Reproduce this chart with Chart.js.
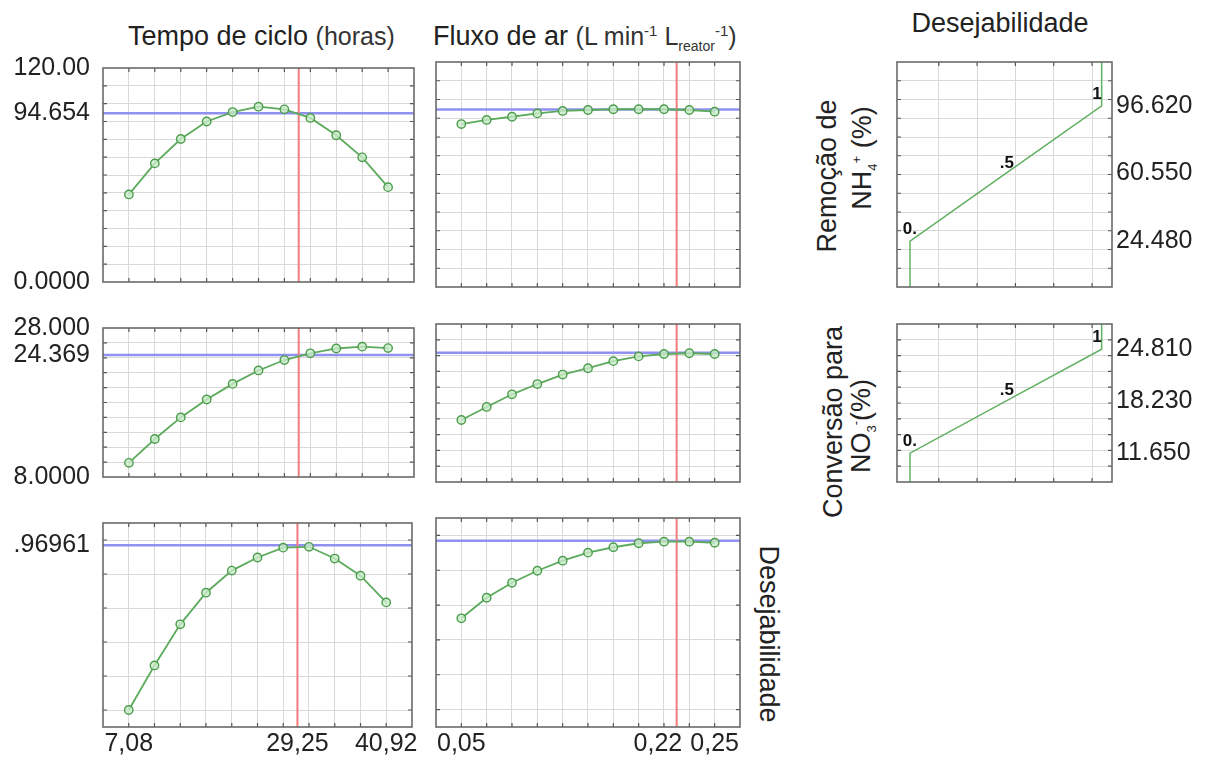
<!DOCTYPE html>
<html>
<head>
<meta charset="utf-8">
<script src="https://cdn.jsdelivr.net/npm/chart.js@4.4.1/dist/chart.umd.min.js"></script>
<style>
    body { margin: 0; background: #fff; width: 1214px; height: 758px; position: relative; overflow: hidden;
           font-family: "Liberation Sans", Arial, sans-serif; color: #222; }
    canvas { position: absolute; }
    .lbl { position: absolute; white-space: nowrap; line-height: 1; font-size: 27px; }
    .ccw { transform: translate(-50%, -50%) rotate(-90deg); }
    .cw { transform: translate(-50%, -50%) rotate(90deg); }
    sup, sub { font-size: 13px; line-height: 0; }
</style>
</head>
<body>
<div class="lbl" style="left:128px; top:23px;">Tempo de ciclo <span style="font-size:25px; color:#333">(horas)</span></div>
<div class="lbl" style="left:433px; top:23px;">Fluxo de ar <span style="font-size:25px; color:#333">(L min<sup style="font-size:15px">-1</sup> L<sub style="font-size:14px">reator</sub><sup style="font-size:15px">-1</sup>)</span></div>
<div class="lbl" style="left:1000px; top:10px; transform: translateX(-50%);">Desejabilidade</div>
<div class="lbl ccw" style="left:827px; top:176px;">Remoção de</div>
<div class="lbl ccw" style="left:862px; top:158px;">NH<sub>4</sub><sup>+</sup> (%)</div>
<div class="lbl ccw" style="left:833px; top:422px;">Conversão para</div>
<div class="lbl ccw" style="left:861px; top:426px;">NO<sub>3</sub><sup>-</sup>(%)</div>
<div class="lbl cw" style="left:768px; top:634px;">Desejabilidade</div>

<canvas id="p11"></canvas>
<canvas id="p12"></canvas>
<canvas id="p21"></canvas>
<canvas id="p22"></canvas>
<canvas id="p31"></canvas>
<canvas id="p32"></canvas>
<canvas id="d1"></canvas>
<canvas id="d2"></canvas>

<script>
// factor levels (x) of the profiles
const tempoNiveis = [7.08, 10.46, 13.85, 17.23, 20.62, 24.00, 27.38, 30.77, 34.15, 37.54, 40.92];
const fluxoNiveis = [0.05, 0.07, 0.09, 0.11, 0.13, 0.15, 0.17, 0.19, 0.21, 0.23, 0.25];

// predicted responses
const remocaoTempo = [49.1, 66.5, 80.2, 90.0, 95.3, 98.3, 96.8, 92.0, 82.3, 69.9, 53.2];
const remocaoFluxo = [86.9, 89.1, 90.8, 92.6, 93.9, 94.4, 94.8, 94.8, 94.8, 94.4, 93.5];
const conversaoTempo = [9.9, 13.1, 16.0, 18.4, 20.5, 22.3, 23.7, 24.6, 25.25, 25.5, 25.3];
const conversaoFluxo = [15.85, 17.5, 19.1, 20.4, 21.6, 22.4, 23.3, 23.9, 24.2, 24.3, 24.2];
const desejTempo = [0.0, 0.262, 0.504, 0.69, 0.82, 0.897, 0.955, 0.96, 0.891, 0.79, 0.633];
const desejFluxo = [0.524, 0.642, 0.728, 0.797, 0.855, 0.901, 0.932, 0.955, 0.964, 0.964, 0.958];

// optimum
const tempoOtimo = 29.25;
const fluxoOtimo = 0.22;
const remocaoOtima = 94.654;
const conversaoOtima = 24.369;
const desejOtima = 0.96961;

// axis tick labels
const tempoTicks = [7.08, 29.25, 40.92];
const tempoTickLabels = ['7,08', '29,25', '40,92'];
const fluxoTicks = [0.05, 0.22, 0.25];
const fluxoTickLabels = ['0,05', '0,22', '0,25'];
const remocaoTicks = [0, 94.654, 120];
const remocaoTickLabels = ['0.0000', '94.654', '120.00'];
const conversaoTicks = [8, 24.369, 28];
const conversaoTickLabels = ['8.0000', '24.369', '28.000'];
const desejTicks = [0.96961];
const desejTickLabels = ['.96961'];

// grid lines
const remocaoGrade = [10, 20, 30, 40, 50, 60, 70, 80, 90, 100, 110];
const conversaoGrade = [10, 12, 14, 16, 18, 20, 22, 24, 26];
const desejGrade = [0, 0.2, 0.4, 0.6, 0.8, 1.0];
const desejXGrade = [0.15, 0.35, 0.55, 0.75, 0.95];

// desirability functions: response at d = 0, .5, 1
const desejNiveis = [0, 0.5, 1];
const desejNiveisLabels = ['0.', '.5', '1'];
const remocaoDesej = [24.48, 60.55, 96.62];
const remocaoDesejLabels = ['24.480', '60.550', '96.620'];
const conversaoDesej = [11.65, 18.23, 24.81];
const conversaoDesejLabels = ['11.650', '18.230', '24.810'];

const fonte = '"Liberation Sans", Arial, sans-serif';
const mesmo = (a, b) => Math.abs(a - b) < 1e-9;

function eixo(min, max, grade, tickVals, tickLabels, extra) {
    return {
        type: 'linear',
        min: min,
        max: max,
        position: extra.position,
        border: { display: false },
        grid: {
            drawTicks: false,
            lineWidth: 1,
            color: c => (c.tick && grade.some(v => mesmo(v, c.tick.value))) ? '#d9d9d9' : 'rgba(0,0,0,0)'
        },
        ticks: {
            display: extra.labels,
            autoSkip: false,
            maxRotation: 0,
            padding: extra.padding || 0,
            font: { family: fonte, size: 25 },
            color: '#222',
            callback: v => {
                const i = tickVals.findIndex(t => mesmo(t, v));
                if (i < 0) return '';
                // the label on the optimum is pushed left so it clears the last one
                return extra.recuo === v ? tickLabels[i] + '\u2002\u2002\u2002' : tickLabels[i];
            }
        },
        afterBuildTicks: ax => {
            const extras = tickVals.filter(t => !grade.some(g => mesmo(g, t)));
            ax.ticks = grade.concat(extras).sort((a, b) => a - b).map(value => ({ value }));
        },
        afterFit: s => {
            if (extra.width !== undefined) s.width = extra.width;
            if (extra.height !== undefined) s.height = extra.height;
        }
    };
}

function curva(xs, ys) {
    return {
        data: xs.map((x, i) => ({ x: x, y: ys[i] })),
        borderColor: '#5cab5c',
        borderWidth: 1.8,
        pointRadius: 4.2,
        pointBackgroundColor: 'rgba(200,235,200,0.8)',
        pointBorderColor: '#4d9c4d',
        pointBorderWidth: 1.4,
        order: 0
    };
}

function linhaH(x0, x1, y) {
    return { data: [{ x: x0, y: y }, { x: x1, y: y }], borderColor: '#9090f0', borderWidth: 2.5, pointRadius: 0, order: 2 };
}

function linhaV(x, y0, y1) {
    return { data: [{ x: x, y: y0 }, { x: x, y: y1 }], borderColor: '#f27c7c', borderWidth: 2, pointRadius: 0, order: 1 };
}

function painel(id, caixa, cfg) {
    const canvas = document.getElementById(id);
    canvas.width = caixa.w;
    canvas.height = caixa.h;
    canvas.style.left = caixa.x + 'px';
    canvas.style.top = caixa.y + 'px';

    // frame with small ticks, plus optional text marks
    const moldura = {
        id: 'moldura',
        afterDraw(chart) {
            const { ctx, chartArea: a, scales } = chart;
            ctx.save();
            ctx.strokeStyle = '#555';
            ctx.lineWidth = 1.2;
            ctx.beginPath();
            cfg.xGrade.forEach(v => {
                const px = scales.x.getPixelForValue(v);
                ctx.moveTo(px, a.top); ctx.lineTo(px, a.top + 4);
                ctx.moveTo(px, a.bottom); ctx.lineTo(px, a.bottom - 4);
            });
            cfg.yGrade.forEach(v => {
                const py = scales.y.getPixelForValue(v);
                ctx.moveTo(a.left, py); ctx.lineTo(a.left + 4, py);
                ctx.moveTo(a.right, py); ctx.lineTo(a.right - 4, py);
            });
            ctx.stroke();
            ctx.strokeStyle = '#6a6a6a';
            ctx.lineWidth = 1.6;
            ctx.strokeRect(a.left, a.top, a.right - a.left, a.bottom - a.top);

            if (cfg.marcas) {
                ctx.fillStyle = '#111';
                ctx.font = 'bold 17px ' + fonte;
                ctx.textBaseline = 'bottom';
                cfg.marcas.d.forEach((d, i) => {
                    const px = scales.x.getPixelForValue(d);
                    const py = scales.y.getPixelForValue(cfg.marcas.y[i]);
                    if (i === 0) { ctx.textAlign = 'right'; ctx.fillText(cfg.marcas.t[i], px + 7, py - 3); }
                    else if (i === 1) { ctx.textAlign = 'center'; ctx.fillText(cfg.marcas.t[i], px + 1, py - 2); }
                    else { ctx.textAlign = 'right'; ctx.fillText(cfg.marcas.t[i], px, py - 3); }
                });
            }
            ctx.restore();
        }
    };

    new Chart(canvas, {
        type: 'line',
        data: { datasets: cfg.datasets },
        options: {
            responsive: false,
            animation: false,
            events: [],
            layout: { padding: cfg.padding },
            plugins: { legend: { display: false }, tooltip: { enabled: false } },
            scales: { x: cfg.x, y: cfg.y }
        },
        plugins: [moldura]
    });
}

// layout of the grid of panels
const colEsq = { x: 0, w: 420, eixo: 103, dir: 6 };
const colDir = { x: 420, w: 360, eixo: 16, dir: 40 };
const linhas = [
    { y: 40, h: 270, top: 22, bottom: 23, eixoX: 0 },
    { y: 300, h: 205, top: 24, bottom: 23, eixoX: 0 },
    { y: 495, h: 263, top: 23, bottom: 0, eixoX: 31 }
];

const tempoMin = 3.696, tempoMax = 44.304;
const fluxoMin = 0.03, fluxoMax = 0.27;

const respostas = [
    { min: 0, max: 120, grade: remocaoGrade, ticks: remocaoTicks, labels: remocaoTickLabels,
      tempo: remocaoTempo, fluxo: remocaoFluxo, otimo: remocaoOtima },
    { min: 8, max: 28, grade: conversaoGrade, ticks: conversaoTicks, labels: conversaoTickLabels,
      tempo: conversaoTempo, fluxo: conversaoFluxo, otimo: conversaoOtima },
    { min: -0.1, max: 1.1, grade: desejGrade, ticks: desejTicks, labels: desejTickLabels,
      tempo: desejTempo, fluxo: desejFluxo, otimo: desejOtima }
];

const fatores = [
    { col: colEsq, niveis: tempoNiveis, min: tempoMin, max: tempoMax, otimo: tempoOtimo,
      ticks: tempoTicks, labels: tempoTickLabels, chave: 'tempo', yLabels: true, recuo: null },
    { col: colDir, niveis: fluxoNiveis, min: fluxoMin, max: fluxoMax, otimo: fluxoOtimo,
      ticks: fluxoTicks, labels: fluxoTickLabels, chave: 'fluxo', yLabels: false, recuo: fluxoOtimo }
];

respostas.forEach((r, li) => {
    const lin = linhas[li];
    fatores.forEach((f, ci) => {
        const ultima = li === 2;
        painel('p' + (li + 1) + (ci + 1),
            { x: f.col.x, y: lin.y, w: f.col.w, h: lin.h },
            {
                padding: { top: lin.top, bottom: lin.bottom, left: 0, right: f.col.dir },
                xGrade: f.niveis,
                yGrade: r.grade,
                x: eixo(f.min, f.max, f.niveis, ultima ? f.ticks : [], ultima ? f.labels : [],
                    { position: 'bottom', labels: ultima, height: lin.eixoX, padding: 2, recuo: f.recuo }),
                y: eixo(r.min, r.max, r.grade, r.ticks, r.labels,
                    { position: 'left', labels: f.yLabels, width: f.col.eixo, padding: 13 }),
                datasets: [
                    curva(f.niveis, r[f.chave]),
                    linhaV(f.otimo, r.min, r.max),
                    linhaH(f.min, f.max, r.otimo)
                ]
            });
    });
});

// desirability function panels
const dMin = -0.068, dMax = 1.054;
const desejPaineis = [
    { id: 'd1', lin: linhas[0], resp: respostas[0], niveis: remocaoDesej, labels: remocaoDesejLabels },
    { id: 'd2', lin: linhas[1], resp: respostas[1], niveis: conversaoDesej, labels: conversaoDesejLabels }
];

desejPaineis.forEach(p => {
    const r = p.resp;
    const xs = [desejNiveis[0]].concat(desejNiveis, [desejNiveis[2]]);
    const ys = [r.min].concat(p.niveis, [r.max]);
    painel(p.id, { x: 880, y: p.lin.y, w: 334, h: p.lin.h }, {
        padding: { top: p.lin.top, bottom: p.lin.bottom, left: 17, right: 0 },
        xGrade: desejXGrade,
        yGrade: r.grade,
        x: eixo(dMin, dMax, desejXGrade, [], [], { position: 'bottom', labels: false, height: 0 }),
        y: eixo(r.min, r.max, r.grade, p.niveis, p.labels,
            { position: 'right', labels: true, width: 102, padding: 4 }),
        datasets: [{
            data: xs.map((x, i) => ({ x: x, y: ys[i] })),
            borderColor: '#62b062',
            borderWidth: 1.5,
            pointRadius: 0,
            tension: 0
        }],
        marcas: { d: desejNiveis, y: p.niveis, t: desejNiveisLabels }
    });
});
</script>
</body>
</html>
